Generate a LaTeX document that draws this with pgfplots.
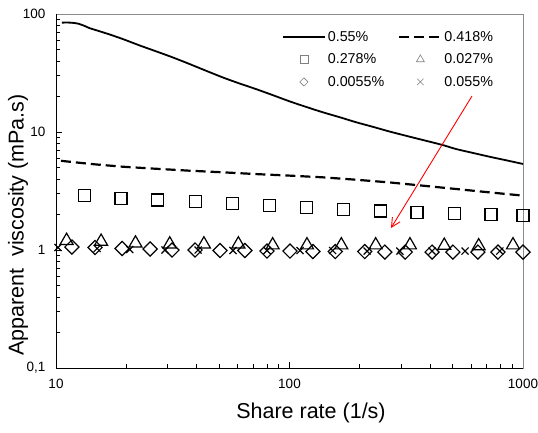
\documentclass[border=0pt]{standalone}
\usepackage{fontspec}
\setmainfont{Liberation Sans}
\usepackage{pgfplots}
\pgfplotsset{compat=1.18}
\usetikzlibrary{arrows.meta}
\begin{document}
\begin{tikzpicture}
\begin{axis}[
  scale only axis, width=467pt, height=354pt,
  xmode=log, ymode=log,
  xmin=10, xmax=1000, ymin=0.1, ymax=100,
  axis line style={draw=gray!90, line width=0.8pt},
  xtick pos=bottom, ytick pos=left,
  tick align=inside,
  xtick={10,100,1000}, xticklabels={10,100,1000},
  ytick={0.1,1,10,100}, yticklabels={{0,1},1,10,100},
  tick style={black, line width=0.7pt},
  major tick length=6pt, minor tick length=4pt,
  xticklabel style={font=\fontsize{13.5}{16}\selectfont, yshift=-8pt},
  yticklabel style={font=\fontsize{13.5}{16}\selectfont, xshift=-7pt},
  xlabel={Share rate (1/s)},
  ylabel={Apparent\ \ viscosity (mPa.s)},
  label style={font=\fontsize{21.5}{24}\selectfont},
  xlabel style={at={(axis description cs:0.546,-0.127)}, anchor=center},
  ylabel style={at={(axis description cs:-0.081,0.404)}, anchor=center},
  clip=false,
  legend columns=2,
  legend cell align=left,
  legend style={draw=none, fill=none, inner sep=0pt, outer sep=0pt,
    font=\fontsize{14.3}{16}\selectfont,
    at={(axis description cs:0.484,0.957)}, anchor=north west,
    row sep=7pt,
    /tikz/every even column/.append style={column sep=12pt}},
  legend image code/.code={\draw[mark repeat=2,mark phase=2] plot coordinates {(0pt,0pt) (21pt,0pt) (42pt,0pt)};},
]
\coordinate (O) at (rel axis cs:0,0);
\draw[black, line width=0.9pt] (rel axis cs:0,1) -- (rel axis cs:0,0) -- (rel axis cs:1,0);

\addplot[black, line width=1.8pt, no marks, smooth,
  legend image post style={line width=1.8pt, sharp plot}] coordinates {
(10.6,84.5)(11.5,84.5)(12.4,83)(13.2,79.5)(13.9,76)(15,72.5)(17,67)(19.3,61.4)
(22.9,54)(26.8,48.3)(31.5,43)(37.3,37.7)(44,33)(51.8,29)(61,25.8)(71.9,23.1)
(85,20.5)(100,18.2)(118,16.3)(138.8,14.7)(165,13.3)(192.8,12.1)(230,11)
(267.9,10.1)(315,9.3)(371.9,8.56)(452.6,7.76)(516,7.18)(610,6.65)(717,6.18)
(850,5.75)(1000,5.36)};
\addlegendentry{0.55\%}

\addplot[black, line width=2.2pt, no marks, dash pattern=on 10pt off 5pt] coordinates {
(10.5,5.7)(13,5.45)(15,5.3)(19.3,5.08)(25,4.92)(37.3,4.7)(50,4.57)(71.9,4.4)
(100,4.27)(138.8,4.13)(190,3.95)(267.9,3.74)(371.9,3.51)(516,3.29)(717,3.08)(1000,2.89)};
\addlegendentry{0.418\%}

\addplot[black, only marks, mark=square, mark size=6pt, line width=1.3pt,
  legend image post style={gray, mark size=4pt, line width=0.6pt}] coordinates {
(13.2,2.89)(19,2.75)(27.2,2.66)(39.6,2.57)(57,2.48)(82,2.38)(118,2.28)
(170,2.2)(245,2.14)(352,2.08)(508,2.03)(730,2.0)(1000,1.96)};
\addlegendentry{0.278\%}

\addplot[black, only marks, mark=triangle, mark size=7.5pt, line width=1.2pt,
  legend image post style={gray, mark size=4.6pt, line width=0.6pt}] coordinates {
(11.1,1.2)(15.6,1.18)(21.9,1.14)(30.7,1.12)(43.0,1.12)(60.4,1.12)(84.7,1.1)
(118.8,1.1)(166.7,1.1)(233.9,1.1)(328,1.1)(460,1.09)(646,1.08)(906,1.1)};
\addlegendentry{0.027\%}

\addplot[black, only marks, mark=square, mark options={rotate=45}, mark size=5pt, line width=1.2pt,
  legend image post style={gray, mark size=2.9pt, line width=0.6pt}] coordinates {
(11.7,1.06)(14.7,1.05)(19.2,1.03)(25.3,1.02)(31.4,1.0)(39.4,1.0)(50.4,0.99)
(64.4,0.99)(80.1,0.98)(100.5,0.98)(126,0.97)(157,0.97)(210,0.97)(256,0.96)
(313,0.96)(408,0.96)(501,0.96)(641,0.96)(781,0.96)(1000,0.96)};
\addlegendentry{0.0055\%}

\addplot[black, only marks, mark=x, mark size=5pt, line width=1.2pt,
  legend image post style={gray, mark size=4.5pt, line width=0.6pt}] coordinates {
(10.2,1.05)(15.0,1.03)(20.7,1.01)(29.3,1.0)(40.6,1.0)(57.3,0.99)(80.1,0.99)
(111,0.99)(153,0.99)(215,0.98)(297,0.98)(408,0.98)(565,0.98)(796,0.98)};
\addlegendentry{0.055\%}

\draw[red, line width=0.9pt, -{Straight Barb[length=9pt,width=9pt]}] (axis cs:605,20.2) -- (axis cs:272,1.535);
\end{axis}
\pgfresetboundingbox
\path[use as bounding box] ([shift={(-56pt,-64pt)}]O) rectangle ++(538pt,432pt);
\end{tikzpicture}
\end{document}
